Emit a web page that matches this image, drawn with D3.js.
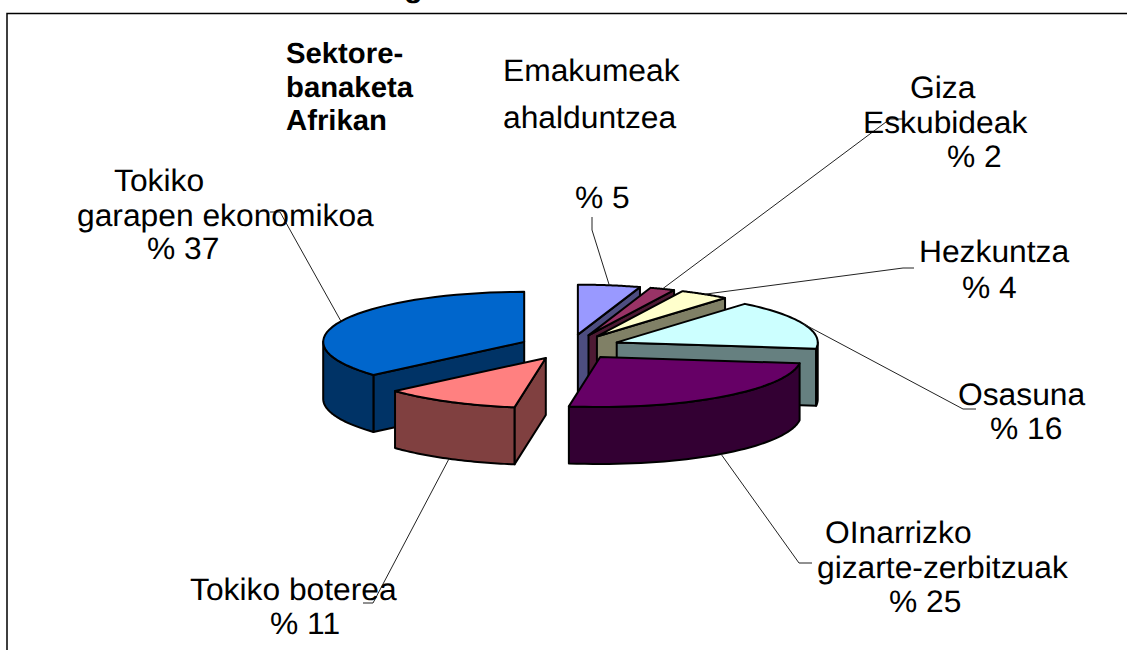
<!DOCTYPE html>
<html>
<head>
<meta charset="utf-8">
<script src="https://cdn.jsdelivr.net/npm/d3@7/dist/d3.min.js"></script>
<style>
html,body{margin:0;padding:0;background:#fff;overflow:hidden}
svg{display:block}
text{font-family:"Liberation Sans",Arial,sans-serif;fill:#000;text-rendering:geometricPrecision}
</style>
</head>
<body>
<svg id="c" width="1127" height="650"></svg>
<script>
// Data (printed labels are rounded; the slices read slightly finer)
const categories = ["Emakumeak ahalduntzea","Giza Eskubideak","Hezkuntza","Osasuna","OInarrizko gizarte-zerbitzuak","Tokiko boterea","Tokiko garapen ekonomikoa"];
const shares = [5,2,4,16,25.49,11.01,36.5];
const topColors = ["#9999FF","#993366","#FFFFCC","#CCFFFF","#660066","#FF8080","#0066CC"];
const wallColors = ["#4D4D80","#4D1A33","#808066","#668080","#330033","#804040","#003366"];
const drawOrder = [0,1,2,3,6,4,5];

// Label layout
const labelLines = [
  [["Emakumeak",503,81],["ahalduntzea",503,128],["% 5",575,208]],
  [["Giza",910,98],["Eskubideak",863,133],["% 2",947,167]],
  [["Hezkuntza",919,262],["% 4",962,298]],
  [["Osasuna",958,405],["% 16",990,439]],
  [["OInarrizko",825,543],["gizarte-zerbitzuak",817,578],["% 25",889,612]],
  [["Tokiko boterea",190,600],["% 11",270,634]],
  [["Tokiko",114,191],["garapen ekonomikoa",77,226],["% 37",147,259]]
];
const leaderEnds = [
  [[592,230],[592,217]],
  [[890,119],[905,119]],
  [[903,268],[914,268]],
  [[963,409],[976,409]],
  [[799,563],[812,563]],
  [[373,603],[363,603]],
  [[280,212],[270,212]]
];
const noteLines = [["Sektore-",286,63],["banaketa",286,97],["Afrikan",286,130]];
const titleFragment = ["g",404,-3];

// Geometry of the tilted pie
const cx = 570, cy = 347, rx = 201, ry = 50, depth = 57, explode = 0.25;
const sx = d3.scaleLinear().domain([-1,1]).range([cx-rx,cx+rx]);
const sy = d3.scaleLinear().domain([-1,1]).range([cy-ry,cy+ry]);

const svg = d3.select("#c");
const lineGen = d3.line();

// Frame (runs off the right and bottom of the picture)
svg.append("path").attr("d","M7,651V13.5H1128").attr("fill","none").attr("stroke","#000").attr("stroke-width",1.5);

const arcs = d3.pie().sort(null).value(d=>d)(shares);
const pt = (d,a,r=1,dz=0)=>{
  const mid=(d.startAngle+d.endAngle)/2;
  return [sx(explode*Math.sin(mid)+r*Math.sin(a)), sy(-explode*Math.cos(mid)-r*Math.cos(a))+dz];
};
const arcPts = (d,a0,a1,dz=0)=>d3.range(0,41).map(i=>pt(d,a0+(a1-a0)*i/40,1,dz));

const pieG = svg.append("g").attr("stroke","#000").attr("stroke-width",2).attr("stroke-linejoin","round");
drawOrder.forEach(i=>{
  const d=arcs[i], g=pieG.append("g");
  const wall=(pts)=>g.append("path").attr("d",lineGen(pts)+"Z").attr("fill",wallColors[i]);
  if(Math.sin(d.startAngle)<-1e-6){
    const e=pt(d,d.startAngle),c=pt(d,0,0);
    wall([c,e,[e[0],e[1]+depth],[c[0],c[1]+depth]]);
  }
  if(Math.sin(d.endAngle)>1e-6){
    const e=pt(d,d.endAngle),c=pt(d,0,0);
    wall([c,e,[e[0],e[1]+depth],[c[0],c[1]+depth]]);
  }
  const a0=Math.max(d.startAngle,Math.PI/2),a1=Math.min(d.endAngle,Math.PI*1.5);
  if(a1>a0) wall(arcPts(d,a0,a1).concat(arcPts(d,a0,a1,depth).reverse()));
  g.append("path").attr("d",lineGen([pt(d,0,0)].concat(arcPts(d,d.startAngle,d.endAngle)))+"Z").attr("fill",topColors[i]);
});

// Leader lines: start on the slice's mid-angle rim
const leaders = svg.append("g").attr("fill","none").attr("stroke","#222").attr("stroke-width",1);
arcs.forEach((d,i)=>{
  const mid=(d.startAngle+d.endAngle)/2;
  const front=Math.cos(mid)<0;
  leaders.append("path").attr("d",lineGen([pt(d,mid,1,front?depth:0)].concat(leaderEnds[i])));
});

// Text
const put=(t,x,y,size,bold,k)=>svg.append("text")
  .attr("transform",`translate(${x},${y}) scale(${k},1)`)
  .attr("font-size",size).attr("font-weight",bold?"bold":"normal").text(t);
labelLines.forEach(lines=>lines.forEach(l=>put(l[0],l[1],l[2],31,false,1.025)));
noteLines.forEach(l=>put(l[0],l[1],l[2],29,true,1.01));
put(titleFragment[0],titleFragment[1],titleFragment[2],30,true,1.02);
</script>
</body>
</html>
